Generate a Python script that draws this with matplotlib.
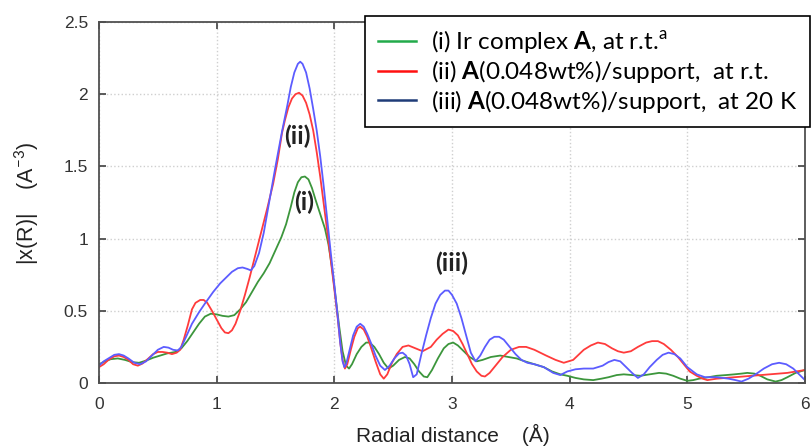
import matplotlib
matplotlib.use("Agg")
import matplotlib.pyplot as plt
from matplotlib.lines import Line2D

# === DANE: |x(R)| ===
r_i = [0.00, 0.05, 0.10, 0.16, 0.22, 0.28, 0.34, 0.40, 0.46, 0.52, 0.58, 0.65,
       0.70, 0.75, 0.80, 0.85, 0.90, 0.95, 1.00, 1.05, 1.10, 1.15, 1.20, 1.25,
       1.30, 1.35, 1.40, 1.45, 1.50, 1.55, 1.59, 1.63, 1.66, 1.69, 1.72, 1.75,
       1.78, 1.81, 1.84, 1.88, 1.92, 1.95, 1.98, 2.01, 2.04, 2.07, 2.10, 2.125,
       2.15, 2.19, 2.23, 2.27, 2.30, 2.34, 2.38, 2.42, 2.46, 2.50, 2.55, 2.60,
       2.64, 2.68, 2.72, 2.76, 2.79, 2.83, 2.88, 2.93, 2.97, 3.01, 3.05, 3.10,
       3.15, 3.21, 3.26, 3.33, 3.41, 3.48, 3.55, 3.62, 3.70, 3.78, 3.85, 3.92,
       3.98, 4.05, 4.12, 4.20, 4.27, 4.33, 4.40, 4.46, 4.53, 4.60, 4.68, 4.76,
       4.82, 4.88, 4.94, 5.00, 5.05, 5.10, 5.18, 5.25, 5.33, 5.40, 5.46, 5.51,
       5.57, 5.62, 5.68, 5.75, 5.80, 5.85, 5.92, 6.00]
chi_i = [0.13, 0.15, 0.165, 0.17, 0.16, 0.145, 0.14, 0.155, 0.175, 0.19, 0.205, 0.215,
         0.24, 0.29, 0.35, 0.41, 0.46, 0.48, 0.475, 0.465, 0.46, 0.47, 0.51, 0.56,
         0.63, 0.70, 0.76, 0.83, 0.92, 1.01, 1.10, 1.22, 1.32, 1.39, 1.425, 1.43,
         1.41, 1.35, 1.27, 1.17, 1.07, 0.96, 0.80, 0.60, 0.40, 0.22, 0.12, 0.10,
         0.13, 0.20, 0.25, 0.28, 0.28, 0.25, 0.20, 0.14, 0.10, 0.12, 0.16, 0.18,
         0.17, 0.13, 0.08, 0.045, 0.04, 0.09, 0.17, 0.24, 0.27, 0.28, 0.26, 0.22,
         0.18, 0.15, 0.16, 0.18, 0.19, 0.18, 0.17, 0.15, 0.13, 0.11, 0.08, 0.06,
         0.05, 0.035, 0.025, 0.02, 0.03, 0.04, 0.055, 0.06, 0.055, 0.05, 0.06, 0.07,
         0.065, 0.05, 0.03, 0.015, 0.02, 0.03, 0.04, 0.05, 0.055, 0.06, 0.065, 0.07,
         0.065, 0.05, 0.025, 0.01, 0.02, 0.04, 0.07, 0.09]

r_ii = [0.00, 0.04, 0.08, 0.13, 0.17, 0.21, 0.25, 0.29, 0.33, 0.37, 0.42, 0.46,
        0.50, 0.54, 0.58, 0.62, 0.66, 0.69, 0.72, 0.755, 0.79, 0.82, 0.86, 0.89,
        0.92, 0.96, 1.00, 1.04, 1.07, 1.10, 1.13, 1.16, 1.20, 1.24, 1.28, 1.33,
        1.38, 1.43, 1.48, 1.52, 1.555, 1.58, 1.61, 1.64, 1.67, 1.70, 1.73, 1.76,
        1.79, 1.82, 1.85, 1.88, 1.91, 1.94, 1.97, 2.00, 2.03, 2.05, 2.07, 2.09,
        2.11, 2.14, 2.17, 2.20, 2.22, 2.25, 2.28, 2.31, 2.35, 2.39, 2.42, 2.45,
        2.49, 2.53, 2.58, 2.63, 2.69, 2.75, 2.82, 2.87, 2.92, 2.97, 3.01, 3.05,
        3.09, 3.13, 3.17, 3.21, 3.25, 3.28, 3.32, 3.37, 3.43, 3.50, 3.57, 3.63,
        3.70, 3.80, 3.88, 3.95, 4.03, 4.12, 4.18, 4.24, 4.30, 4.36, 4.41, 4.46,
        4.52, 4.58, 4.65, 4.70, 4.75, 4.80, 4.86, 4.92, 4.97, 5.02, 5.08, 5.13,
        5.17, 5.25, 5.40, 5.55, 5.70, 5.85, 6.00]
chi_ii = [0.11, 0.13, 0.16, 0.185, 0.19, 0.18, 0.16, 0.13, 0.12, 0.135, 0.17, 0.20,
          0.215, 0.215, 0.21, 0.20, 0.21, 0.23, 0.30, 0.40, 0.51, 0.555, 0.575, 0.575,
          0.555, 0.50, 0.44, 0.38, 0.35, 0.345, 0.365, 0.41, 0.50, 0.61, 0.73, 0.89,
          1.05, 1.21, 1.38, 1.55, 1.73, 1.82, 1.91, 1.97, 2.00, 2.01, 1.99, 1.94,
          1.86, 1.75, 1.60, 1.43, 1.24, 1.05, 0.85, 0.65, 0.44, 0.28, 0.16, 0.10,
          0.13, 0.23, 0.32, 0.38, 0.39, 0.37, 0.32, 0.25, 0.15, 0.06, 0.03, 0.06,
          0.14, 0.20, 0.25, 0.26, 0.24, 0.22, 0.25, 0.30, 0.34, 0.37, 0.36, 0.33,
          0.27, 0.20, 0.13, 0.08, 0.05, 0.045, 0.07, 0.12, 0.18, 0.23, 0.25, 0.25,
          0.23, 0.19, 0.16, 0.14, 0.16, 0.23, 0.26, 0.28, 0.27, 0.24, 0.22, 0.21,
          0.22, 0.25, 0.28, 0.29, 0.29, 0.27, 0.23, 0.18, 0.13, 0.08, 0.05, 0.03,
          0.02, 0.03, 0.04, 0.05, 0.06, 0.07, 0.09]

r_iii = [0.00, 0.04, 0.08, 0.13, 0.17, 0.21, 0.25, 0.30, 0.35, 0.40, 0.45, 0.50,
         0.55, 0.59, 0.63, 0.67, 0.70, 0.74, 0.79, 0.85, 0.90, 0.97, 1.03, 1.08,
         1.13, 1.18, 1.22, 1.26, 1.29, 1.32, 1.36, 1.40, 1.45, 1.50, 1.555, 1.60,
         1.63, 1.66, 1.69, 1.71, 1.73, 1.76, 1.79, 1.82, 1.85, 1.88, 1.91, 1.94,
         1.97, 2.00, 2.03, 2.05, 2.07, 2.085, 2.10, 2.13, 2.16, 2.19, 2.22, 2.25,
         2.28, 2.31, 2.35, 2.39, 2.43, 2.47, 2.51, 2.55, 2.58, 2.61, 2.64, 2.67,
         2.70, 2.74, 2.78, 2.82, 2.86, 2.90, 2.94, 2.97, 3.00, 3.04, 3.08, 3.12,
         3.16, 3.20, 3.24, 3.28, 3.32, 3.36, 3.40, 3.44, 3.49, 3.54, 3.59, 3.64,
         3.70, 3.78, 3.86, 3.92, 3.98, 4.05, 4.12, 4.20, 4.28, 4.33, 4.38, 4.43,
         4.48, 4.53, 4.58, 4.63, 4.68, 4.74, 4.79, 4.84, 4.89, 4.94, 5.00, 5.08,
         5.15, 5.25, 5.35, 5.41, 5.46, 5.52, 5.58, 5.65, 5.72, 5.78, 5.84, 5.90,
         5.95, 6.00]
chi_iii = [0.12, 0.15, 0.17, 0.195, 0.20, 0.19, 0.17, 0.14, 0.13, 0.15, 0.19, 0.23,
           0.25, 0.245, 0.23, 0.225, 0.25, 0.32, 0.41, 0.49, 0.55, 0.63, 0.69, 0.73,
           0.77, 0.795, 0.80, 0.79, 0.78, 0.81, 0.90, 1.04, 1.27, 1.50, 1.74, 1.92,
           2.05, 2.15, 2.21, 2.225, 2.21, 2.15, 2.04, 1.90, 1.75, 1.57, 1.36, 1.13,
           0.90, 0.68, 0.45, 0.28, 0.15, 0.11, 0.13, 0.23, 0.33, 0.39, 0.41, 0.39,
           0.34, 0.28, 0.19, 0.12, 0.09, 0.12, 0.17, 0.205, 0.21, 0.19, 0.13, 0.04,
           0.06, 0.20, 0.33, 0.45, 0.55, 0.61, 0.64, 0.64, 0.61, 0.55, 0.45, 0.33,
           0.21, 0.15, 0.19, 0.25, 0.30, 0.32, 0.32, 0.30, 0.25, 0.20, 0.16, 0.14,
           0.13, 0.11, 0.07, 0.055, 0.08, 0.095, 0.10, 0.10, 0.12, 0.145, 0.16, 0.15,
           0.11, 0.07, 0.035, 0.06, 0.11, 0.16, 0.195, 0.21, 0.20, 0.17, 0.11, 0.06,
           0.04, 0.04, 0.03, 0.02, 0.01, 0.03, 0.06, 0.10, 0.13, 0.14, 0.13, 0.10,
           0.06, 0.02]

legend_labels = [
    r"(i) Ir complex $\mathbf{A}$, at r.t.$^{\mathrm{a}}$",
    r"(ii) $\mathbf{A}$(0.048wt%)/support,  at r.t.",
    r"(iii) $\mathbf{A}$(0.048wt%)/support,  at 20 K",
]

# === STYL ===
plt.rcParams["font.family"] = ["Liberation Sans", "DejaVu Sans"]
plt.rcParams["mathtext.fontset"] = "custom"
plt.rcParams["mathtext.rm"] = "Lato"
plt.rcParams["mathtext.bf"] = "Lato:bold"

fig = plt.figure(figsize=(8.11, 4.48), dpi=100)
ax = fig.add_axes([99 / 811, 65 / 448, 706 / 811, 361 / 448])

ax.plot(r_i, chi_i, color="#3c963c", lw=1.3)
ax.plot(r_ii, chi_ii, color="#ff3b3b", lw=1.3)
ax.plot(r_iii, chi_iii, color="#5c5cff", lw=1.3)

ax.set_xlim(0, 6)
ax.set_ylim(0, 2.5)
ax.set_xticks(range(0, 7))
ax.set_yticks([0, 0.5, 1, 1.5, 2, 2.5])
ax.set_yticklabels(["0", "0.5", "1", "1.5", "2", "2.5"])
ax.grid(True, color="#cfcfcf", linestyle=":", lw=1.0)
ax.tick_params(direction="in", length=5, width=1.2, color="#404040",
               top=True, right=True, labelsize=12.5, labelcolor="#333333")
ax.tick_params(axis="x", pad=10)
ax.tick_params(axis="y", pad=8)
for s in ax.spines.values():
    s.set_color("#505050")
    s.set_linewidth(1.3)

# Opisy osi
fig.text(453 / 811, 1 - 435 / 448, "Radial distance    (Å)", fontsize=15,
         color="#222222", ha="center", va="center")
fig.text(27 / 811, 1 - 203 / 448, "|x(R)|    (A$^{-3}$)", fontsize=15.5,
         color="#222222", ha="center", va="center", rotation=90)

# Podpisy pików
ann_font = dict(family="Lato", fontsize=18, fontweight="bold", color="#222222",
                ha="center", va="center")
ax.text(1.69, 1.71, "(ii)", **ann_font)
ax.text(1.74, 1.25, "(i)", **ann_font)
ax.text(3.0, 0.83, "(iii)", **ann_font)

# Legenda (kolory linii w legendzie inne niż na wykresie, jak w oryginale)
handles = [Line2D([], [], color="#22aa4a", lw=1.8),
           Line2D([], [], color="#ff1010", lw=1.8),
           Line2D([], [], color="#1f3c78", lw=1.8)]
leg = fig.legend(handles, legend_labels, loc="upper right",
                 bbox_to_anchor=(810 / 811, 1 - 16 / 448), borderaxespad=0,
                 prop={"family": "Lato", "size": 17.5}, frameon=True, fancybox=False,
                 edgecolor="black", framealpha=1, handlelength=1.6,
                 handletextpad=0.62, labelspacing=0.12, borderpad=0.5)
leg.get_frame().set_linewidth(1.2)

fig.savefig("out.png", dpi=100)
